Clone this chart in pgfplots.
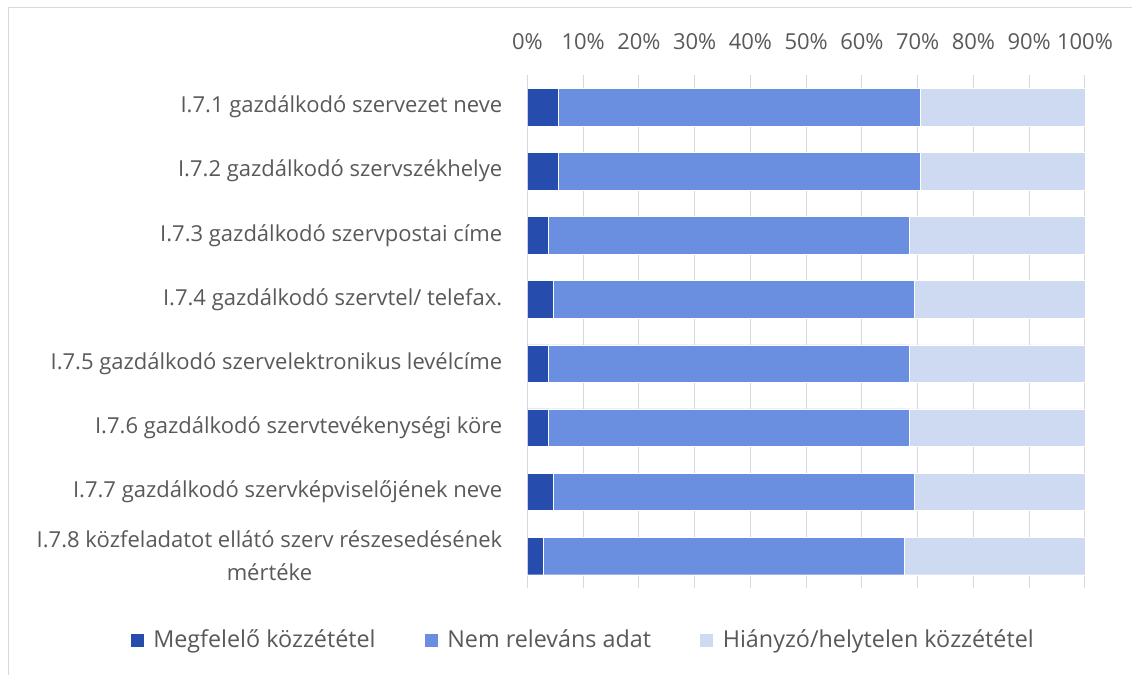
\documentclass[border=0pt]{standalone}
\usepackage{fontspec}
\setmainfont{Open Sans}
\usepackage{pgfplots}
\pgfplotsset{compat=1.18}

\definecolor{cgood}{HTML}{264CAD}
\definecolor{cnone}{HTML}{6A8EE0}
\definecolor{cmiss}{HTML}{CED9F2}
\definecolor{ctext}{HTML}{595959}
\definecolor{cgrid}{HTML}{D9D9D9}

\begin{document}
\begin{tikzpicture}
	% 1 px = 0.75pt, picture 1132 x 675 px
	\useasboundingbox (0,0) rectangle (849pt,506.25pt);
	\draw[cgrid, line width=0.75pt] (6pt,0) -- (6pt,500.25pt) -- (849pt,500.25pt);
	\begin{axis}[
		at={(395.6pt,65.25pt)}, anchor=south west,
		scale only axis, width=418.1pt, height=384.75pt,
		xbar stacked, bar width=0.585,
		xmin=0, xmax=100, ymin=-0.5, ymax=7.5, y dir=reverse,
		xtick={0,10,...,100}, xticklabel={\pgfmathprintnumber{\tick}\%},
		xticklabel pos=upper,
		ytick={0,...,7},
		yticklabels={
			I.7.1 gazdálkodó szervezet neve,
			I.7.2 gazdálkodó szervszékhelye,
			I.7.3 gazdálkodó szervpostai címe,
			I.7.4 gazdálkodó szervtel/ telefax.,
			I.7.5 gazdálkodó szervelektronikus levélcíme,
			I.7.6 gazdálkodó szervtevékenységi köre,
			I.7.7 gazdálkodó szervképviselőjének neve,
			{I.7.8 közfeladatot ellátó szerv részesedésének\\mértéke}},
		major tick length=0pt,
		axis line style={draw=none},
		xmajorgrids, grid style={cgrid, line width=0.75pt},
		/pgf/number format/assume math mode=true,
		tick label style={font=\fontsize{16.5}{24.5}\selectfont, text=ctext},
		xticklabel style={anchor=center, inner sep=0pt, yshift=24.75pt},
		yticklabel style={align=center, inner sep=0pt, xshift=-18.75pt},
		legend style={at={(0.0996,-0.101)}, anchor=center, draw=none,
			font=\fontsize{17.5}{21}\selectfont, text=ctext,
			legend columns=3, column sep=5pt,
			/tikz/every even column/.append style={column sep=34pt}},
		legend image code/.code={\fill[#1] (0pt,-5.25pt) rectangle (10.5pt,5.25pt);},
		every axis plot/.append style={draw=white, line width=0.3pt},
	]
		\addplot[fill=cgood] coordinates {(5.56,0) (5.56,1) (3.70,2) (4.63,3) (3.70,4) (3.70,5) (4.63,6) (2.78,7)};
		\addplot[fill=cnone] coordinates {(64.81,0) (64.81,1) (64.81,2) (64.81,3) (64.81,4) (64.81,5) (64.81,6) (64.81,7)};
		\addplot[fill=cmiss] coordinates {(29.63,0) (29.63,1) (31.49,2) (30.56,3) (31.49,4) (31.49,5) (30.56,6) (32.41,7)};
		\legend{Megfelelő közzététel, Nem releváns adat, Hiányzó/helytelen közzététel}
	\end{axis}
\end{tikzpicture}
\end{document}
